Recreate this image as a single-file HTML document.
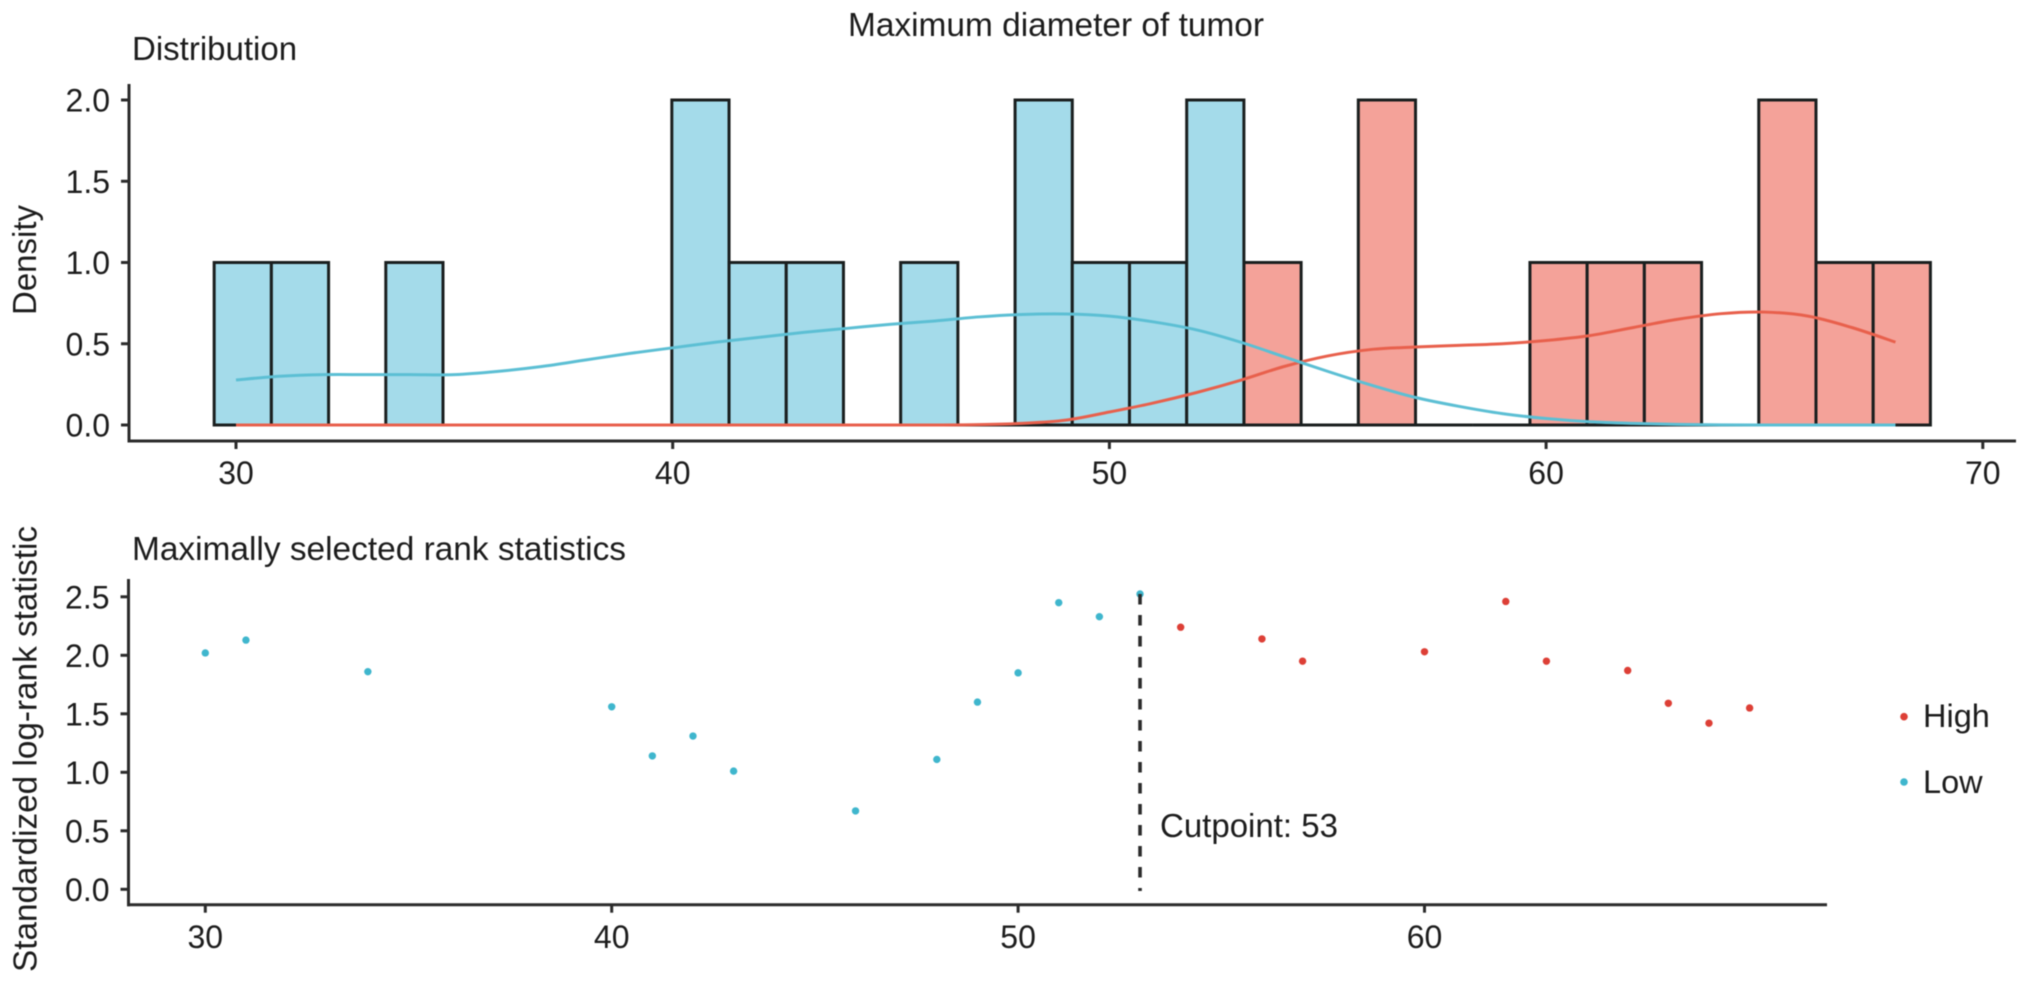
<!DOCTYPE html>
<html lang="en">
<head>
<meta charset="utf-8">
<title>Maximum diameter of tumor</title>
<style>
html,body{margin:0;padding:0;background:#fff;}
#chart{display:block;width:2032px;height:984px;filter:blur(0.6px);}
text{font-family:"Liberation Sans",sans-serif;fill:#1c1c1c;}
</style>
</head>
<body>
<svg id="chart" xmlns="http://www.w3.org/2000/svg" width="2032" height="984" viewBox="0 0 2032 984">
  <text x="848" y="36" font-size="33" textLength="416" lengthAdjust="spacingAndGlyphs">Maximum diameter of tumor</text>
  <text x="132" y="60" font-size="33">Distribution</text>
  <text x="132" y="560" font-size="33" textLength="494" lengthAdjust="spacingAndGlyphs">Maximally selected rank statistics</text>
  <text transform="translate(36,315) rotate(-90)" font-size="33">Density</text>
  <text transform="translate(36.5,972) rotate(-90)" font-size="33" textLength="446" lengthAdjust="spacingAndGlyphs">Standardized log-rank statistic</text>
  <g id="top-plot"></g>
  <g id="bottom-plot"></g>
  <text x="1160" y="837" font-size="33">Cutpoint: 53</text>
  <circle cx="1904" cy="716.7" r="3.8" fill="#dd3f36"/>
  <text x="1923" y="727" font-size="32.5">High</text>
  <circle cx="1904" cy="782" r="3.8" fill="#3fb6cd"/>
  <text x="1923" y="793" font-size="32.5">Low</text>
</svg>
<script>
const lowCounts = [1,1,0,1,0,0,0,0,2,1,1,0,1,0,2,1,1,2,0,0,0,0,0,0,0,0,0,0,0,0];
const highCounts = [0,0,0,0,0,0,0,0,0,0,0,0,0,0,0,0,0,0,1,0,2,0,0,1,1,1,0,2,1,1];
const densityX = [30,31,32,33,34,35,36,37,38,39,40,41,42,43,44,45,46,47,48,49,50,51,52,53,54,55,56,57,58,59,60,61,62,63,64,65,66,67,68];
const lowDensity = [0.277,0.30,0.31,0.31,0.31,0.31,0.33,0.36,0.40,0.44,0.475,0.51,0.54,0.57,0.595,0.62,0.64,0.665,0.68,0.683,0.67,0.635,0.585,0.51,0.42,0.33,0.245,0.17,0.115,0.07,0.04,0.02,0.01,0.004,0.001,0,0,0,0];
const highDensity = [0,0,0,0,0,0,0,0,0,0,0,0,0,0,0,0,0,0.002,0.01,0.03,0.08,0.135,0.20,0.275,0.36,0.425,0.465,0.48,0.49,0.50,0.52,0.55,0.60,0.65,0.685,0.695,0.67,0.60,0.51];
const lowPointX = [30,31,34,40,41,42,43,46,48,49,50,51,52,53];
const lowPointY = [2.02,2.13,1.86,1.56,1.14,1.31,1.01,0.67,1.11,1.60,1.85,2.45,2.33,2.524];
const highPointX = [54,56,57,60,62,63,65,66,67,68];
const highPointY = [2.24,2.14,1.95,2.03,2.46,1.95,1.87,1.59,1.42,1.55];
const topXTicks = [30,40,50,60,70];
const topYTicks = [0,0.5,1,1.5,2];
const bottomXTicks = [30,40,50,60];
const bottomYTicks = [0,0.5,1,1.5,2,2.5];
const cutpoint = [53];
const binStart = [29.5];
const binWidth = [1.31];

const NS = 'http://www.w3.org/2000/svg';
const topX = v => 236 + (v - 30) * 43.67;
const topY = v => 425 - v * 162.5;
const botX = v => 205.3 + (v - 30) * 40.64;
const botY = v => 889.3 - v * 117;
const topG = document.getElementById('top-plot');
const botG = document.getElementById('bottom-plot');

function make(tag, attrs, parent, text) {
  const n = document.createElementNS(NS, tag);
  for (const k in attrs) n.setAttribute(k, attrs[k]);
  if (text !== undefined) n.textContent = text;
  parent.appendChild(n);
  return n;
}

function smoothPath(xs, ys, fx, fy) {
  const p = xs.map((x, i) => [fx(x), fy(ys[i])]);
  let d = 'M' + p[0][0] + ' ' + p[0][1];
  for (let i = 0; i < p.length - 1; i++) {
    const a = p[Math.max(i - 1, 0)], b = p[i], c = p[i + 1], e = p[Math.min(i + 2, p.length - 1)];
    d += 'C' + (b[0] + (c[0] - a[0]) / 6) + ' ' + (b[1] + (c[1] - a[1]) / 6) + ' '
      + (c[0] - (e[0] - b[0]) / 6) + ' ' + (c[1] - (e[1] - b[1]) / 6) + ' ' + c[0] + ' ' + c[1];
  }
  return d;
}

function drawBars(counts, fill, label) {
  counts.forEach((c, k) => {
    const x0 = topX(binStart[0] + k * binWidth[0]);
    const x1 = topX(binStart[0] + (k + 1) * binWidth[0]);
    const d = 'M' + x0 + ' ' + topY(0) + 'L' + x0 + ' ' + topY(c) + 'L' + x1 + ' ' + topY(c) + 'L' + x1 + ' ' + topY(0) + 'Z';
    const r = make('path', {d: d, fill: fill, stroke: '#1a1f1f', 'stroke-width': 3}, topG);
    
    
  });
}
drawBars(highCounts, '#f4a299', 'high');
drawBars(lowCounts, '#a4dbea', 'low');

const highCurve = make('path', {d: smoothPath(densityX, highDensity, topX, topY), fill: 'none', stroke: '#e8604c', 'stroke-width': 3}, topG);


const lowCurve = make('path', {d: smoothPath(densityX, lowDensity, topX, topY), fill: 'none', stroke: '#5cbfd4', 'stroke-width': 3}, topG);



function drawAxes(g, left, top, right, base, xTicks, yTicks, fx, fy, xLabelY, prefix) {
  const yLine = make('line', {x1: left, y1: top, x2: left, y2: base + 1.5, stroke: '#2b2b2b', 'stroke-width': 3}, g);
  
  
  const xLine = make('line', {x1: left - 1.5, y1: base, x2: right, y2: base, stroke: '#2b2b2b', 'stroke-width': 3}, g);
  
  
  xTicks.forEach(t => {
    const tick = make('line', {x1: fx(t), y1: base, x2: fx(t), y2: base + 8, stroke: '#2b2b2b', 'stroke-width': 3}, g);
    
    
    const lab = make('text', {x: fx(t), y: xLabelY, 'font-size': 32, 'text-anchor': 'middle'}, g, String(t));
    
    
  });
  yTicks.forEach(t => {
    const tick = make('line', {x1: left - 8, y1: fy(t), x2: left, y2: fy(t), stroke: '#2b2b2b', 'stroke-width': 3}, g);
    
    
    const lab = make('text', {x: left - 19, y: fy(t) + 11.5, 'font-size': 32, 'text-anchor': 'end'}, g, t.toFixed(1));
    
    
  });
}
drawAxes(topG, 129, 84, 2016, 441, topXTicks, topYTicks, topX, topY, 484, 'distribution');
drawAxes(botG, 128.5, 579, 1827, 904.7, bottomXTicks, bottomYTicks, botX, botY, 948, 'rank');

lowPointX.forEach((x, i) => {
  const c = make('circle', {cx: botX(x), cy: botY(lowPointY[i]), r: 3.7, fill: '#3fb6cd'}, botG);
  
  
});
highPointX.forEach((x, i) => {
  const c = make('circle', {cx: botX(x), cy: botY(highPointY[i]), r: 3.7, fill: '#dd3f36'}, botG);
  
  
});

const cutLine = make('line', {x1: botX(cutpoint[0]), y1: botY(2.524), x2: botX(cutpoint[0]), y2: 891, stroke: '#2b2b2b', 'stroke-width': 3.6, 'stroke-dasharray': '10.5 10.5'}, botG);


</script>
</body>
</html>
